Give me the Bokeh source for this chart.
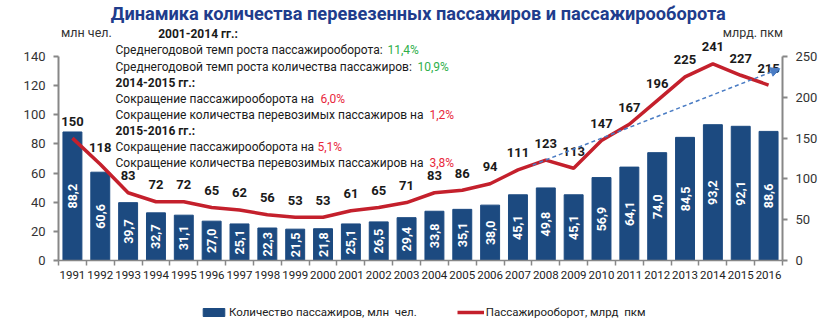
from math import pi
from bokeh.plotting import figure
from bokeh.layouts import column
from bokeh.models import (Range1d, LinearAxis, FixedTicker, Label,
                          Legend, LegendItem, Arrow, NormalHead, ColumnDataSource)
from bokeh.core.properties import value
from bokeh.embed import file_html
from bokeh.resources import INLINE

years = [str(y) for y in range(1991, 2017)]
passengers = [88.2, 60.6, 39.7, 32.7, 31.1, 27.0, 25.1, 22.3, 21.5, 21.8, 25.1, 26.5, 29.4,
              33.8, 35.1, 38.0, 45.1, 49.8, 45.1, 56.9, 64.1, 74.0, 84.5, 93.2, 92.1, 88.6]
turnover = [150, 118, 83, 72, 72, 65, 62, 56, 53, 53, 61, 65, 71,
            83, 86, 94, 111, 123, 113, 147, 167, 196, 225, 241, 227, 215]
left_ticks = [0, 20, 40, 60, 80, 100, 120, 140]
right_ticks = [0, 50, 100, 150, 200, 250]

title_text = "Динамика количества перевезенных пассажиров и пассажирооборота"
left_unit = "млн  чел."
right_unit = "млрд. пкм"
bar_name = "Количество пассажиров, млн  чел."
line_name = "Пассажирооборот, млрд  пкм"
notes = [
    ("2001-2014 гг.:", True, None),
    ("Среднегодовой темп роста пассажирооборота: ", False, ("11,4%", "green")),
    ("Среднегодовой темп роста количества пассажиров: ", False, ("10,9%", "green")),
    ("2014-2015 гг.:", True, None),
    ("Сокращение пассажирооборота на ", False, ("6,0%", "red")),
    ("Сокращение количества перевозимых пассажиров на ", False, ("1,2%", "red")),
    ("2015-2016 гг.:", True, None),
    ("Сокращение пассажирооборота на ", False, ("5,1%", "red")),
    ("Сокращение количества перевозимых пассажиров на ", False, ("3,8%", "red")),
]
pct_x = [None, 387, 417, None, 320, 429, None, 317, 429]
note_y = [33, 49, 66, 82, 98, 114, 130, 146, 162]

# trend arrow (position along year axis, right-axis value)
trend_start = (17.03, 117)
trend_end = (25.9, 235)

BLUE = "#1C4A80"
RED = "#C4202C"
GREEN = "#2EAF4A"
PRED = "#E8283C"
AX = "#878787"
FONT = "Roboto"
NOTE_SIZE = "12px"

W, H = 835, 325
HEAD = 39                      # header strip height
FOOT = 30                      # legend strip height
FL, FR, FT, FB = 58, 782, 56, 260
MH = H - HEAD - FOOT           # main figure height
n = len(years)
xc = [i + 0.5 for i in range(n)]

def strip(height):
    f = figure(width=W, height=height, x_range=Range1d(0, W), y_range=Range1d(0, height),
               output_backend="svg", toolbar_location=None,
               x_axis_location=None, y_axis_location=None,
               min_border_left=0, min_border_right=0, min_border_top=0, min_border_bottom=0)
    f.outline_line_color = None
    f.xgrid.visible = False
    f.ygrid.visible = False
    return f

# ---------- header strip (title, units, first note line) ----------
hd = strip(HEAD)

def hlab(px, py, text, **kw):
    args = dict(x=px, y=HEAD - py, text=text, text_font=FONT, text_baseline="middle")
    args.update(kw)
    hd.add_layout(Label(**args))

hlab(415, 13, title_text, text_align="center", text_font_size="18.2px",
     text_font_style="bold", text_color="#203C8C")
hlab(34, 32, left_unit, text_align="center", text_font_size="12.5px", text_color="#333333")
hlab(801, 32, right_unit, text_align="center", text_font_size="12.5px", text_color="#333333")

# ---------- main chart ----------
top_left = 140 * (FB - HEAD) / (FB - FT)
top_right = 250 * (FB - HEAD) / (FB - FT)

p = figure(width=W, height=MH, x_range=Range1d(0, n), y_range=Range1d(0, top_left),
           output_backend="svg", toolbar_location=None,
           x_axis_location=None, y_axis_location=None,
           min_border_left=FL, min_border_right=W - FR,
           min_border_top=0, min_border_bottom=HEAD + MH - FB)
p.outline_line_color = None
p.xgrid.visible = False
p.ygrid.visible = False
p.extra_y_ranges = {"right": Range1d(0, top_right)}

def style_axis(ax):
    ax.axis_line_color = AX
    ax.axis_line_width = 2
    ax.major_tick_line_color = AX
    ax.major_tick_line_width = 2
    ax.major_tick_in = 0
    ax.major_tick_out = 5
    ax.minor_tick_line_color = None
    ax.major_label_text_font = FONT
    ax.major_label_text_font_size = "13px"
    ax.major_label_text_color = "#333333"

ly = LinearAxis(ticker=FixedTicker(ticks=left_ticks), bounds=(0, 140))
style_axis(ly)
ly.major_label_standoff = 8
p.add_layout(ly, "left")
ry = LinearAxis(y_range_name="right", ticker=FixedTicker(ticks=right_ticks), bounds=(0, 250))
style_axis(ry)
ry.major_label_standoff = 8
p.add_layout(ry, "right")

bx = LinearAxis(ticker=FixedTicker(ticks=xc, minor_ticks=list(range(n + 1))),
                major_label_overrides={x: y for x, y in zip(xc, years)})
bx.axis_line_color = AX
bx.axis_line_width = 1.5
bx.major_tick_line_color = None
bx.major_tick_in = 0
bx.major_tick_out = 5
bx.minor_tick_line_color = AX
bx.minor_tick_line_width = 1.5
bx.minor_tick_in = 0
bx.minor_tick_out = 5
bx.major_label_standoff = 5
bx.major_label_text_font = FONT
bx.major_label_text_font_size = "11.5px"
bx.major_label_text_color = "#222222"
p.add_layout(bx, "below")

src = ColumnDataSource(dict(
    x=xc, pas=passengers, half=[v / 2 for v in passengers],
    plab=[f"{v:.1f}".replace(".", ",") for v in passengers],
    tur=turnover, tlab=[str(v) for v in turnover]))

p.vbar(x="x", top="pas", width=0.68, source=src, fill_color=BLUE, line_color=BLUE)
p.text(x="x", y="half", text="plab", source=src, angle=pi / 2,
       text_align="center", text_baseline="middle", text_color="white",
       text_font=value(FONT), text_font_style="bold", text_font_size="12.5px")

arrow = Arrow(x_start=trend_start[0], y_start=trend_start[1], x_end=trend_end[0], y_end=trend_end[1],
              y_range_name="right", line_color="#4A7CC4", line_width=1.5, line_dash="4 3",
              end=NormalHead(size=9, fill_color="#4A7CC4", line_color="#4A7CC4"))
p.add_layout(arrow)

p.line(x="x", y="tur", source=src, y_range_name="right", line_color=RED, line_width=3.5)
p.text(x="x", y="tur", text="tlab", source=src, y_range_name="right", y_offset=-17,
       text_align="center", text_baseline="middle", text_color="#1a1a1a",
       text_font=value(FONT), text_font_style="bold", text_font_size="13px")

def lab(px, py, text, **kw):
    args = dict(x=px - FL, y=FB - py, x_units="screen", y_units="screen", text=text,
                text_font=FONT, text_baseline="middle")
    args.update(kw)
    p.add_layout(Label(**args))

for (t, bold, pct), py, pxp in zip(notes, note_y, pct_x):
    add = hlab if py < HEAD else lab
    add(115, py, t, text_font_size=NOTE_SIZE, text_color="#1a1a1a",
        text_font_style="bold" if bold else "normal")
    if pct:
        add(pxp, py, pct[0], text_font_size=NOTE_SIZE,
            text_color=GREEN if pct[1] == "green" else PRED)

# ---------- legend strip (hidden copies of the two series provide the keys) ----------
ft = strip(FOOT)
fsrc = ColumnDataSource(dict(x=xc, pas=passengers, tur=turnover))
kb = ft.vbar(x="x", top="pas", width=0.68, source=fsrc, fill_color=BLUE, line_color=BLUE,
             visible=False)
kl = ft.line(x="x", y="tur", source=fsrc, line_color=RED, line_width=3.5, visible=False)
legend = Legend(items=[LegendItem(label=bar_name, renderers=[kb]),
                       LegendItem(label=line_name, renderers=[kl])],
                orientation="horizontal", location=(142, FOOT - 17 - 10),
                border_line_color=None, background_fill_alpha=0,
                inactive_fill_alpha=0,
                label_text_font=FONT, label_text_font_size="11.5px", label_text_color="#222222",
                glyph_width=27, glyph_height=10, label_standoff=2, spacing=40,
                padding=0, margin=0, label_height=20)
ft.add_layout(legend, "center")

layout = column(hd, p, ft, spacing=0)
open("out.html", "w").write(file_html(layout, INLINE))
